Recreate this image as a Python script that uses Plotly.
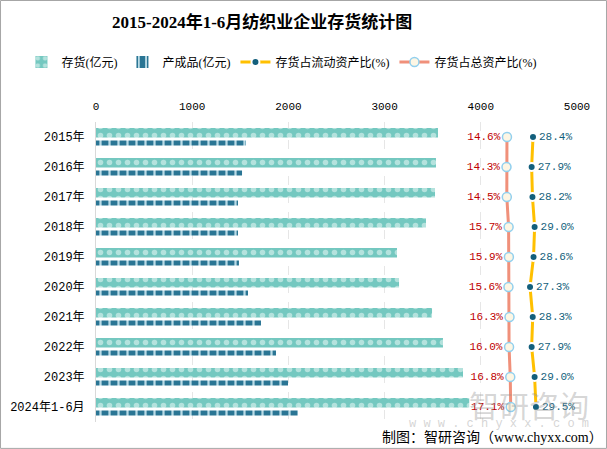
import plotly.graph_objects as go

years = ["2015年", "2016年", "2017年", "2018年", "2019年", "2020年",
         "2021年", "2022年", "2023年", "2024年1-6月"]
inventory = [3555, 3534, 3524, 3430, 3129, 3150, 3493, 3607, 3815, 3880]
finished = [1559, 1518, 1476, 1476, 1486, 1580, 1715, 1871, 1996, 2100]
ratio_current = [28.4, 27.9, 28.2, 29.0, 28.6, 27.3, 28.3, 27.9, 29.0, 29.5]
ratio_total = [14.6, 14.3, 14.5, 15.7, 15.9, 15.6, 16.3, 16.0, 16.8, 17.1]

font_fam = "Liberation Serif, Noto Sans CJK SC, serif"
mono = "Liberation Mono, Noto Sans CJK SC, monospace"

fig = go.Figure()

fig.add_trace(go.Bar(
    y=years, x=inventory, orientation="h", name="存货(亿元)",
    width=0.32, offset=-0.3,
    marker=dict(color="#74c8c0", line=dict(width=0),
                pattern=dict(shape=".", fgcolor="#b4e2dd", bgcolor="#74c8c0",
                             size=9, solidity=0.3, fillmode="replace")),
))
fig.add_trace(go.Bar(
    y=years, x=finished, orientation="h", name="产成品(亿元)",
    width=0.17, offset=0.115,
    marker=dict(color="#2a7594", line=dict(width=0),
                pattern=dict(shape="|", fgcolor="#b9dbe6", bgcolor="#2a7594",
                             size=9, solidity=0.25, fillmode="replace")),
))
fig.add_trace(go.Scatter(
    y=years, x=ratio_current, xaxis="x3", name="存货占流动资产比(%)",
    mode="lines+markers+text",
    line=dict(color="#ffc000", width=3),
    marker=dict(color="#135f7c", size=8, line=dict(color="white", width=2)),
    text=[f"{v:.1f}%" for v in ratio_current], textposition="middle right",
    textfont=dict(color="#135f7c", size=11, family=mono),
))
fig.add_trace(go.Scatter(
    y=years, x=ratio_total, xaxis="x2", name="存货占总资产比(%)",
    mode="lines+markers+text",
    line=dict(color="#f0907a", width=3),
    marker=dict(color="#fdf6e4", size=9, line=dict(color="#92d0ee", width=1.5)),
    text=[f"{v:.1f}%" for v in ratio_total], textposition="middle left",
    textfont=dict(color="#c00000", size=11, family=mono),
))

fig.update_layout(
    width=607, height=449,
    margin=dict(l=96, r=30, t=122, b=27, autoexpand=False),
    paper_bgcolor="white", plot_bgcolor="white",
    barmode="overlay",
    font=dict(family=font_fam, size=12, color="#000"),
    title=dict(text="<b>2015-2024年1-6月纺织业企业存货统计图</b>",
               x=0.432, xanchor="center", y=0.951, yanchor="middle",
               font=dict(size=17, family=font_fam, color="#000")),
    legend=dict(orientation="h", x=-0.155, xanchor="left", y=1.2, yanchor="middle",
                font=dict(size=12), itemwidth=30, tracegroupgap=0,
                bgcolor="rgba(0,0,0,0)"),
    xaxis=dict(range=[0, 5000], side="top", dtick=1000, showgrid=True,
               gridcolor="#e6e6e6", griddash="dash", gridwidth=1,
               zeroline=False, showline=False, ticks="", automargin=False,
               ticklabelstandoff=9, tickfont=dict(size=11, family=mono)),
    xaxis2=dict(overlaying="x", range=[-259.4, 61.3], visible=False),
    xaxis3=dict(overlaying="x", range=[-133.5, 44.7], visible=False),
    yaxis=dict(range=[9.5, -0.5], showline=True, linecolor="#d9d9d9",
               linewidth=1, ticks="", ticklabelstandoff=8, automargin=False,
               tickfont=dict(size=12, family=mono)),
    shapes=[dict(type="rect", xref="paper", yref="paper",
                 x0=-0.1985, x1=1.0613, y0=-0.088, y1=1.405,
                 line=dict(color="#a6a6a6", width=1))],
    annotations=[
        dict(text="智研咨询", xref="paper", yref="paper", x=1.03, y=0.06,
             xanchor="right", yanchor="middle", showarrow=False,
             font=dict(size=30, color="rgba(150,150,150,0.4)", family="Noto Sans CJK SC")),
        dict(text="w w w . c h y x x . c o m", xref="paper", yref="paper", x=1.03, y=-0.007,
             xanchor="right", yanchor="middle", showarrow=False,
             font=dict(size=12, color="rgba(170,170,170,0.5)", family=mono)),
        dict(text="制图：智研咨询（www.chyxx.com）", xref="paper", yref="paper",
             x=1.058, y=-0.05, xanchor="right", yanchor="middle", showarrow=False,
             font=dict(size=14, color="#000", family=font_fam)),
    ],
)

fig.write_html("out.html", config={"displayModeBar": False},
               post_script="document.body.style.margin='0';")
